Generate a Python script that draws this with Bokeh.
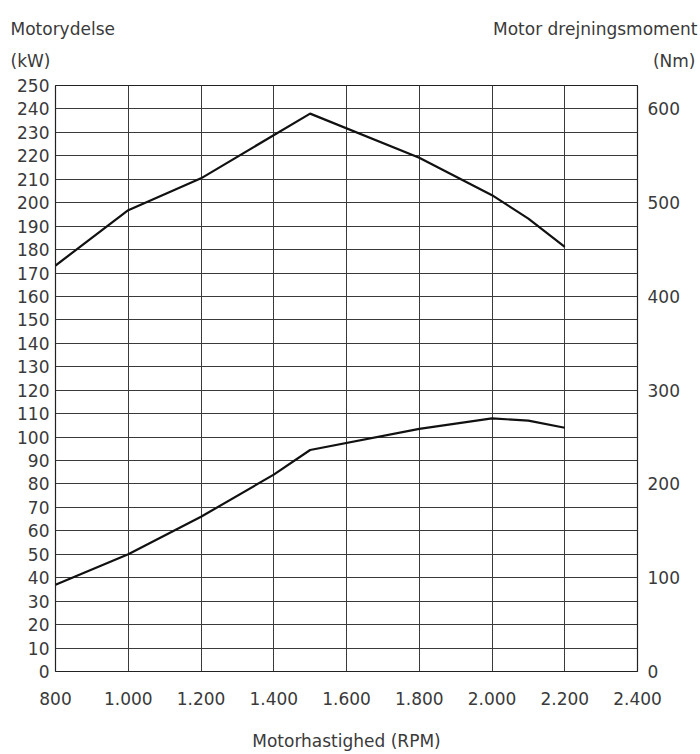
from bokeh.plotting import figure
from bokeh.layouts import column
from bokeh.models import Range1d, LinearAxis, FixedTicker
from bokeh.core.properties import value
from bokeh.embed import file_html
from bokeh.resources import INLINE

# ---- data ----
power_rpm = [800, 1000, 1200, 1400, 1500, 1800, 2000, 2100, 2200]
power_kw = [37, 50, 66, 84, 94.5, 103.5, 108, 107, 104]

torque_rpm = [800, 1000, 1200, 1500, 1800, 2000, 2100, 2200]
torque_nm = [433, 492, 526, 595, 548, 508, 483, 453]

rpm_ticks = [800, 1000, 1200, 1400, 1600, 1800, 2000, 2200, 2400]
rpm_tick_labels = ["800", "1.000", "1.200", "1.400", "1.600", "1.800", "2.000", "2.200", "2.400"]
kw_ticks = list(range(0, 251, 10))
nm_ticks = [0, 100, 200, 300, 400, 500, 600]

title_left = "Motorydelse"
unit_left = "(kW)"
title_right = "Motor drejningsmoment"
unit_right = "(Nm)"
x_title = "Motorhastighed (RPM)"

FONT = "DejaVu Sans"
TXT = "#3a3a3a"
FS = "17px"

# ---- header with the axis titles ----
top = figure(width=700, height=74, x_range=Range1d(0, 700), y_range=Range1d(74, 0),
             output_backend="svg", toolbar_location=None, min_border=0)
top.frame_align = False
top.axis.visible = False
top.grid.visible = False
top.outline_line_color = None
top.text(x=[10, 10], y=[28, 60], text=[title_left, unit_left], text_font=value(FONT),
         text_font_size=FS, text_color=TXT, text_align="left", text_baseline="alphabetic")
top.text(x=[697, 695], y=[28, 60], text=[title_right, unit_right], text_font=value(FONT),
         text_font_size=FS, text_color=TXT, text_align="right", text_baseline="alphabetic")

# ---- main chart ----
p = figure(width=700, height=680, x_range=Range1d(800, 2400), y_range=Range1d(0, 250),
           output_backend="svg", toolbar_location=None,
           min_border_left=55, min_border_right=63, min_border_top=11, min_border_bottom=83)
p.frame_align = False
p.extra_y_ranges = {"nm": Range1d(0, 625)}

right_axis = LinearAxis(y_range_name="nm", ticker=FixedTicker(ticks=nm_ticks))
p.add_layout(right_axis, "right")

p.xaxis.ticker = FixedTicker(ticks=rpm_ticks)
p.xaxis.major_label_overrides = {t: l for t, l in zip(rpm_ticks, rpm_tick_labels)}
p.yaxis[0].ticker = FixedTicker(ticks=kw_ticks)

for ax in [p.xaxis[0], p.yaxis[0], right_axis]:
    ax.axis_line_color = None
    ax.major_tick_line_color = None
    ax.minor_tick_line_color = None
    ax.major_tick_in = 0
    ax.major_tick_out = 0
    ax.major_label_text_font = FONT
    ax.major_label_text_font_size = FS
    ax.major_label_text_color = TXT
p.xaxis.major_label_standoff = 20
p.yaxis[0].major_label_standoff = 6
right_axis.major_label_standoff = 10

p.xaxis.axis_label = x_title
p.xaxis.axis_label_standoff = 23
p.xaxis.axis_label_text_font = FONT
p.xaxis.axis_label_text_font_size = FS
p.xaxis.axis_label_text_font_style = "normal"
p.xaxis.axis_label_text_color = TXT

p.xgrid.ticker = FixedTicker(ticks=rpm_ticks)
p.ygrid.ticker = FixedTicker(ticks=kw_ticks)
for g in [p.xgrid[0], p.ygrid[0]]:
    g.grid_line_color = "#3a3a3a"
    g.grid_line_width = 1
    g.grid_line_alpha = 1

p.outline_line_color = "#222222"
p.outline_line_width = 1.2
p.background_fill_color = "white"
p.border_fill_color = "white"

p.line(power_rpm, power_kw, line_color="#111111", line_width=2.2)
p.line(torque_rpm, torque_nm, y_range_name="nm", line_color="#111111", line_width=2.2)

layout = column(top, p, spacing=0)
open("out.html", "w").write(file_html(layout, INLINE))
